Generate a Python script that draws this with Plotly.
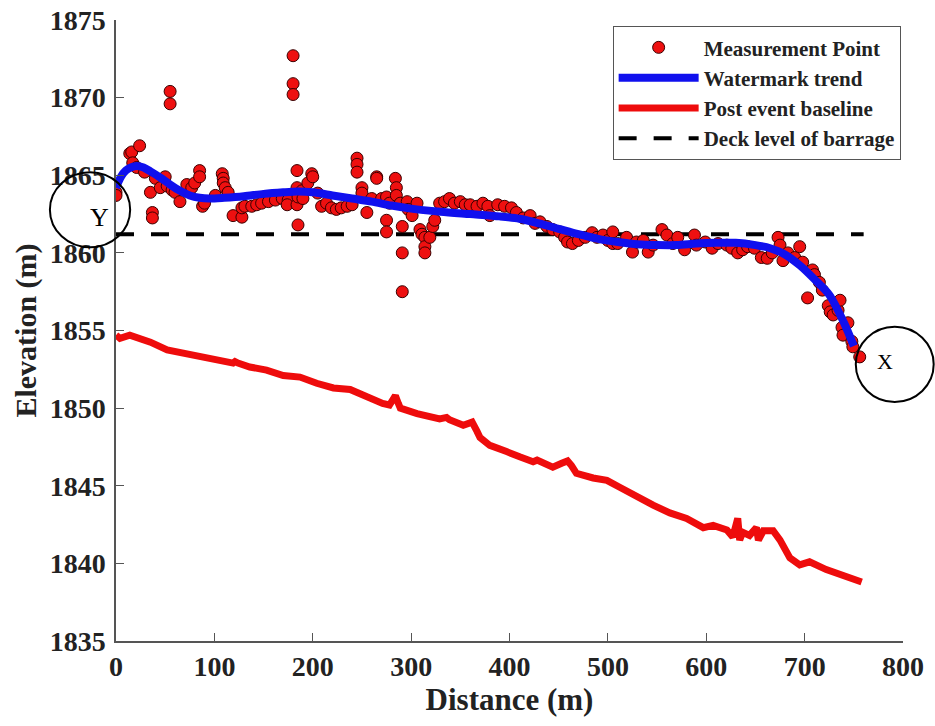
import plotly.graph_objects as go

# Surveyed watermark points along the reach: distance (m) and elevation (m)
point_dist = [0, 0, 14, 16, 24, 17, 21, 29, 35, 37, 37, 40, 45, 50, 52, 55, 55, 57, 60, 65,
              72, 77, 80, 85, 85, 88, 90, 101, 108, 109, 109, 111, 114, 119, 128, 128, 131, 138,
              143, 148, 155, 162, 169, 175, 174, 180, 180, 180, 184, 185, 184, 184, 189, 185, 190,
              195, 199, 200, 205, 209, 214, 219, 224, 229, 235, 240, 245, 245, 245, 250, 250, 255,
              260, 265, 265, 270, 275, 275, 275, 278, 284, 285, 285, 289, 291, 291, 291, 296, 297,
              301, 306, 309, 311, 314, 314, 314, 319, 322, 324, 329, 334, 339, 344, 350, 355, 360,
              367, 373, 378, 380, 388, 395, 402, 407, 414, 421, 426, 431, 438, 444, 451, 456, 459,
              464, 470, 477, 484, 489, 495, 500, 505, 505, 510, 519, 525, 529, 536, 541, 546, 555,
              560, 566, 571, 578, 588, 590, 599, 606, 612, 621, 626, 632, 637, 642, 649, 656, 662,
              667, 673, 675, 678, 683, 690, 695, 698, 703, 708, 710, 715, 718, 724, 726, 729, 734,
              736, 738, 739, 744, 748, 749, 756]
point_elev = [1863.9, 1863.7, 1866.4, 1866.5, 1866.9, 1865.8, 1865.5, 1865.2, 1863.9, 1862.6,
              1862.25, 1864.8, 1864.2, 1864.9, 1864.3, 1870.4, 1869.6, 1864.05, 1863.9, 1863.3,
              1864.4, 1864.2, 1864.5, 1865.3, 1864.9, 1863.0, 1863.2, 1863.7, 1865.1, 1864.8,
              1864.5, 1864.2, 1863.9, 1862.4, 1862.3, 1862.9, 1863.0, 1863.0, 1863.1, 1863.2,
              1863.3, 1863.4, 1863.5, 1863.4, 1863.1, 1872.7, 1870.9, 1870.2, 1865.3, 1861.8,
              1864.2, 1863.1, 1864.0, 1863.6, 1863.5, 1864.5, 1865.1, 1864.9, 1863.85, 1863.0,
              1863.2, 1862.9, 1862.8, 1862.9, 1863.0, 1863.1, 1866.1, 1865.7, 1865.2, 1864.2,
              1863.85, 1862.6, 1863.5, 1864.9, 1864.8, 1863.5, 1863.6, 1862.1, 1861.35, 1863.2,
              1864.8, 1864.2, 1863.7, 1863.2, 1861.7, 1860.0, 1857.5, 1863.3, 1862.8, 1862.4,
              1863.2, 1861.5, 1861.2, 1861.0, 1860.4, 1860.0, 1861.0, 1861.7, 1862.1, 1863.2,
              1863.3, 1863.5, 1863.2, 1863.3, 1863.1, 1863.1, 1863.0, 1863.2, 1863.0, 1862.4,
              1863.1, 1863.0, 1862.9, 1862.6, 1862.25, 1862.4, 1861.9, 1862.0, 1861.7, 1861.5,
              1861.35, 1861.0, 1860.7, 1860.6, 1860.8, 1861.0, 1861.3, 1861.0, 1861.15, 1860.8,
              1861.35, 1860.6, 1860.6, 1861.0, 1860.05, 1860.7, 1860.8, 1860.05, 1860.5, 1861.5,
              1861.15, 1860.6, 1861.0, 1860.2, 1861.15, 1860.5, 1860.7, 1860.3, 1860.6, 1860.5,
              1860.3, 1860.0, 1860.2, 1860.4, 1860.3, 1859.7, 1859.65, 1860.0, 1861.0, 1860.5,
              1859.5, 1860.0, 1859.7, 1860.4, 1859.4, 1857.1, 1858.9, 1858.6, 1858.1, 1857.6,
              1856.6, 1856.2, 1856.0, 1856.3, 1856.95, 1855.2, 1854.7, 1855.5, 1854.3, 1853.95,
              1853.3]

# Smoothed watermark trend
trend_dist = [0, 5, 10, 15, 21, 28, 35, 45, 55, 65, 75, 85, 95, 110, 130, 150, 170, 185, 200,
              220, 240, 260, 280, 300, 330, 360, 390, 410, 430, 450, 470, 490, 510, 530, 550,
              570, 590, 610, 630, 650, 665, 680, 695, 710, 725, 740, 750]
trend_elev = [1864.2, 1864.9, 1865.3, 1865.5, 1865.6, 1865.5, 1865.25, 1864.85, 1864.4, 1864.0,
              1863.7, 1863.55, 1863.5, 1863.55, 1863.65, 1863.8, 1863.9, 1863.95, 1863.9,
              1863.7, 1863.5, 1863.3, 1863.05, 1862.85, 1862.65, 1862.5, 1862.35, 1862.2,
              1861.9, 1861.55, 1861.2, 1860.9, 1860.7, 1860.55, 1860.5, 1860.5, 1860.6, 1860.65,
              1860.65, 1860.5, 1860.3, 1859.9, 1859.2, 1858.3, 1857.3, 1855.5, 1854.0]

# Post-event bed profile
base_dist = [0, 4, 14, 35, 52, 68, 85, 103, 119, 121, 124, 136, 153, 170, 187, 204, 221, 238,
             255, 271, 278, 282, 284, 287, 289, 306, 322, 329, 336, 339, 353, 358, 362, 367, 370,
             380, 393, 397, 411, 424, 428, 444, 453, 459, 463, 468, 485, 499, 512, 529, 546,
             563, 580, 597, 607, 621, 627, 632, 634, 637, 644, 651, 653, 658, 668, 675, 685,
             695, 705, 722, 735, 746, 752, 758]
base_elev = [1854.7, 1854.5, 1854.7, 1854.25, 1853.75, 1853.55, 1853.3, 1853.0, 1852.9, 1853.0,
             1852.9, 1852.65, 1852.45, 1852.1, 1852.0, 1851.6, 1851.3, 1851.2, 1850.7, 1850.3,
             1850.2, 1850.5, 1850.8, 1850.3, 1850.0, 1849.65, 1849.45, 1849.3, 1849.4, 1849.25,
             1848.9, 1849.0, 1849.1, 1848.5, 1848.1, 1847.6, 1847.35, 1847.2, 1846.85, 1846.55,
             1846.65, 1846.2, 1846.45, 1846.6, 1846.3, 1845.8, 1845.5, 1845.35, 1844.9, 1844.3,
             1843.75, 1843.25, 1842.9, 1842.3, 1842.45, 1842.15, 1841.7, 1842.9, 1841.5, 1842.0,
             1841.8, 1842.3, 1841.5, 1842.1, 1842.1, 1841.5, 1840.35, 1839.9, 1840.1, 1839.6,
             1839.3, 1839.1, 1839.0, 1838.8]

# Deck level of the barrage
deck_level = 1861.2
deck_span = [0, 760]

font_family = "Liberation Serif"
text_color = "#222222"

fig = go.Figure()

fig.add_trace(go.Scatter(
    x=base_dist, y=base_elev, mode="lines", name="Post event baseline",
    line=dict(color="#ee0c0c", width=7), legendrank=3))

fig.add_trace(go.Scatter(
    x=deck_span, y=[deck_level, deck_level], mode="lines", name="Deck level of barrage",
    line=dict(color="black", width=4, dash="18px,17px"), legendrank=4))

fig.add_trace(go.Scatter(
    x=point_dist, y=point_elev, mode="markers", name="Measurement Point",
    marker=dict(size=12, color="#ee1010", line=dict(color="#3a0000", width=1)),
    legendrank=1))

fig.add_trace(go.Scatter(
    x=trend_dist, y=trend_elev, mode="lines", name="Watermark trend",
    line=dict(color="#1010ee", width=8, shape="spline", smoothing=0.8), legendrank=2))

axis_common = dict(
    showline=True, linecolor="#555555", linewidth=1.5,
    ticks="inside", ticklen=8, tickwidth=1.2, tickcolor="#555555",
    showgrid=False, zeroline=False, mirror=False, automargin=False,
    tickfont=dict(family=font_family, size=28, color=text_color, weight="bold"),
)

fig.update_xaxes(range=[0, 800], tickvals=[0, 100, 200, 300, 400, 500, 600, 700, 800],
                 title=dict(text="Distance (m)", standoff=6,
                            font=dict(family=font_family, size=31, color=text_color,
                                      weight="bold")),
                 **axis_common)
fig.update_yaxes(range=[1835, 1875],
                 tickvals=[1835, 1840, 1845, 1850, 1855, 1860, 1865, 1870, 1875],
                 ticklabelstandoff=3,
                 title=dict(text="Elevation (m)", standoff=4,
                            font=dict(family=font_family, size=30, color=text_color,
                                      weight="bold")),
                 **axis_common)

# Circled end markers
fig.add_shape(type="circle", xref="paper", yref="paper",
              x0=-0.084, x1=0.018, y0=0.634, y1=0.755,
              line=dict(color="black", width=2))
fig.add_shape(type="circle", xref="paper", yref="paper",
              x0=0.940, x1=1.039, y0=0.385, y1=0.506,
              line=dict(color="black", width=2))
fig.add_annotation(xref="paper", yref="paper", x=-0.036, y=0.708, text="Y", showarrow=False,
                   font=dict(family=font_family, size=26, color="black"))
fig.add_annotation(xref="paper", yref="paper", x=0.990, y=0.450, text="X", showarrow=False,
                   font=dict(family=font_family, size=22, color="black"))

fig.update_layout(
    width=935, height=726,
    margin=dict(l=116, r=32, t=20, b=85, autoexpand=False),
    plot_bgcolor="white", paper_bgcolor="white",
    legend=dict(x=0.997, y=0.99, xanchor="right", yanchor="top",
                bordercolor="#555555", borderwidth=1, bgcolor="white",
                font=dict(family=font_family, size=21, color=text_color, weight="bold"),
                itemwidth=80, tracegroupgap=0),
    showlegend=True,
)

fig.write_html("out.html")
